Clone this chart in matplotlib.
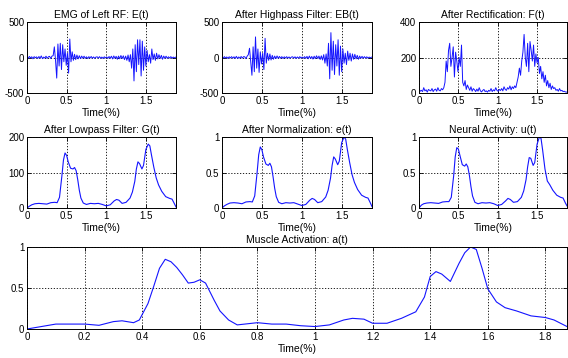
import numpy as np
import matplotlib.pyplot as plt
from matplotlib.ticker import FormatStrFormatter

plt.rcParams['font.family'] = ['Liberation Sans', 'DejaVu Sans']
plt.rcParams['font.size'] = 7

# ------------------------------------------------------------------
# data
# ------------------------------------------------------------------
T_END = 1.88
t_raw = np.linspace(0, 1.875, 126)

emg_raw = [8, -12, 15, -6, 10, -18, 12, -4, 9, -14,
           14, -10, 22, -16, 6, -8, 18, -12, 10, 16,
           -14, 20, 25, 150, -40, -290, 190, -120, 200, -170,
           180, -60, 120, -110, 60, -220, 260, -60, 80, -40,
           45, -30, 35, -20, 25, -15, 20, -10, 18, -12,
           10, -15, 12, -8, 14, -10, 8, -12, 6, 10,
           -8, 12, -10, 6, -14, 10, -6, 8, -12, 14,
           -10, 18, -20, 22, -12, 16, -25, 20, -18, 28,
           -15, 24, -30, 20, -40, 35, -60, 40, -150, 120,
           -330, 180, -200, 250, -100, 250, -260, 230, -180, 150,
           -120, 100, -60, 40, -80, 120, -30, 50, -40, 60,
           -20, 40, -15, 30, -25, 20, -10, 18, -12, 10,
           -8, 12, -10, 6, -5, 4]

emg_hp = [6, -10, 12, -8, 8, -14, 10, -6, 12, -10,
          10, -12, 16, -14, 8, -10, 14, -8, 12, 10,
          -16, 18, 40, 130, -60, -250, 150, -200, 290, -150,
          120, -210, 80, -90, 60, -170, 270, -80, 60, -40,
          50, -35, 30, -25, 20, -15, 22, -12, 15, -10,
          12, -14, 10, -8, 12, -10, 8, -10, 6, 10,
          -8, 10, -12, 8, -10, 12, -8, 6, -10, 12,
          -12, 16, -18, 20, -14, 14, -22, 18, -16, 24,
          -14, 20, -28, 24, -35, 40, -80, 50, -120, 200,
          -300, 350, -180, 230, -240, 180, -120, 250, -250, 160,
          -200, 120, -80, 60, -100, 90, -40, 60, -50, 50,
          -25, 45, -20, 30, -25, 20, -12, 16, -10, 12,
          -8, 10, -10, 6, -4, 5]

emg_rect = [25, 10, 15, 8, 30, 12, 18, 5, 20, 15,
            12, 25, 8, 18, 22, 10, 30, 15, 12, 25,
            18, 30, 60, 180, 120, 240, 280, 150, 200, 260,
            90, 230, 180, 120, 200, 150, 270, 60, 40, 70,
            20, 45, 30, 15, 35, 10, 25, 18, 8, 22,
            10, 30, 12, 6, 15, 20, 8, 12, 5, 15,
            10, 25, 8, 18, 12, 30, 15, 10, 20, 14,
            25, 12, 35, 20, 15, 30, 22, 40, 18, 35,
            25, 40, 30, 60, 90, 140, 100, 180, 230, 330,
            200, 150, 280, 120, 290, 240, 180, 270, 150, 220,
            170, 200, 110, 150, 80, 120, 60, 100, 40, 70,
            30, 55, 20, 40, 25, 30, 15, 20, 10, 25,
            12, 15, 8, 10, 6, 5]

t_smooth = [0.0, 0.03, 0.06, 0.1, 0.15, 0.2, 0.25, 0.3, 0.35, 0.38,
            0.41, 0.44, 0.46, 0.48, 0.5, 0.52, 0.55, 0.58, 0.6, 0.62,
            0.64, 0.66, 0.68, 0.71, 0.75, 0.8, 0.85, 0.9, 0.95, 1.0,
            1.05, 1.1, 1.13, 1.16, 1.2, 1.25, 1.3, 1.33, 1.36, 1.38,
            1.4, 1.42, 1.45, 1.47, 1.5, 1.53, 1.55, 1.57, 1.6, 1.63,
            1.66, 1.7, 1.75, 1.8, 1.83, 1.86, 1.88]

lowpass = [0, 5, 9, 12, 13, 12, 11, 15, 16, 15,
           30, 90, 135, 155, 148, 130, 112, 110, 114, 105,
           80, 50, 28, 14, 10, 13, 12, 13, 10, 6,
           9, 20, 24, 22, 13, 16, 28, 45, 75, 110,
           130, 125, 110, 120, 165, 180, 175, 150, 115, 85,
           65, 47, 32, 27, 25, 12, 3]

normalized = [0, 0.03, 0.05, 0.07, 0.075, 0.07, 0.06, 0.085, 0.09, 0.085,
              0.17, 0.5, 0.75, 0.86, 0.82, 0.72, 0.62, 0.6, 0.63, 0.58,
              0.44, 0.28, 0.16, 0.08, 0.06, 0.075, 0.07, 0.075, 0.055, 0.035,
              0.05, 0.11, 0.135, 0.12, 0.075, 0.09, 0.155, 0.25, 0.42, 0.6,
              0.72, 0.69, 0.61, 0.66, 0.92, 1.0, 0.97, 0.83, 0.64, 0.47,
              0.36, 0.26, 0.18, 0.15, 0.14, 0.07, 0.02]

neural = [0, 0.04, 0.06, 0.07, 0.075, 0.07, 0.065, 0.085, 0.09, 0.09,
          0.15, 0.45, 0.72, 0.85, 0.83, 0.74, 0.61, 0.59, 0.62, 0.58,
          0.46, 0.3, 0.17, 0.08, 0.06, 0.075, 0.07, 0.075, 0.06, 0.035,
          0.05, 0.1, 0.135, 0.12, 0.08, 0.09, 0.15, 0.24, 0.4, 0.58,
          0.71, 0.7, 0.6, 0.64, 0.9, 1.0, 0.98, 0.82, 0.55, 0.38,
          0.33, 0.25, 0.18, 0.15, 0.14, 0.07, 0.03]

t_act = [0.0, 0.05, 0.1, 0.2, 0.25, 0.3, 0.33, 0.37, 0.39, 0.42,
         0.44, 0.46, 0.48, 0.5, 0.52, 0.54, 0.56, 0.58, 0.6, 0.62,
         0.65, 0.67, 0.7, 0.73, 0.8, 0.85, 0.9, 0.95, 1.0, 1.05,
         1.1, 1.13, 1.17, 1.2, 1.25, 1.3, 1.35, 1.38, 1.4, 1.42,
         1.44, 1.47, 1.5, 1.52, 1.54, 1.56, 1.58, 1.6, 1.63, 1.66,
         1.7, 1.75, 1.8, 1.83, 1.875]

activation = [0, 0.03, 0.06, 0.06, 0.045, 0.09, 0.1, 0.077, 0.11, 0.31,
              0.52, 0.74, 0.85, 0.82, 0.75, 0.66, 0.56, 0.57, 0.6, 0.56,
              0.35, 0.22, 0.11, 0.05, 0.077, 0.06, 0.06, 0.04, 0.03, 0.05,
              0.11, 0.13, 0.12, 0.07, 0.07, 0.13, 0.21, 0.39, 0.64, 0.7,
              0.67, 0.58, 0.8, 0.93, 1.0, 0.97, 0.74, 0.49, 0.33, 0.26,
              0.22, 0.16, 0.14, 0.11, 0.03]

# ------------------------------------------------------------------
W, H = 568, 358
fig = plt.figure(figsize=(W / 100, H / 100), dpi=100)

def box(l, t, r, b):
    return [l / W, 1 - b / H, (r - l) / W, (b - t) / H]

LINE = '#1414ff'

def style(ax, ylim, yticks, xticks, title, fmt='%g'):
    ax.set_xlim(0, T_END)
    ax.set_ylim(*ylim)
    ax.set_xticks(xticks)
    ax.set_yticks(yticks)
    ax.xaxis.set_major_formatter(FormatStrFormatter(fmt))
    ax.yaxis.set_major_formatter(FormatStrFormatter('%g'))
    ax.grid(True, color='black', linestyle=(0, (1.5, 2)), linewidth=0.6)
    ax.tick_params(direction='in', length=3, width=0.6, top=True, right=True,
                   labelsize=7, pad=2)
    for s in ax.spines.values():
        s.set_linewidth(0.7)
    ax.set_title(title, fontsize=7.5, pad=3)
    ax.set_xlabel('Time(%)', fontsize=7.5, labelpad=1.5)

top_x = [0, 0.5, 1, 1.5]
cols = [(27, 176), (222, 372), (419, 567)]
r1 = (22, 93)
r2 = (137, 208)

ax = fig.add_axes(box(cols[0][0], r1[0], cols[0][1], r1[1]))
ax.plot(t_raw, emg_raw, color=LINE, lw=0.7)
style(ax, (-500, 500), [-500, 0, 500], top_x, 'EMG of Left RF: E(t)')

ax = fig.add_axes(box(cols[1][0], r1[0], cols[1][1], r1[1]))
ax.plot(t_raw, emg_hp, color=LINE, lw=0.7)
style(ax, (-500, 500), [-500, 0, 500], top_x, 'After Highpass Filter: EB(t)')

ax = fig.add_axes(box(cols[2][0], r1[0], cols[2][1], r1[1]))
ax.plot(t_raw, emg_rect, color=LINE, lw=0.7)
style(ax, (0, 400), [0, 200, 400], top_x, 'After Rectification: F(t)')

ax = fig.add_axes(box(cols[0][0], r2[0], cols[0][1], r2[1]))
ax.plot(t_smooth, lowpass, color=LINE, lw=0.8)
style(ax, (0, 200), [0, 100, 200], top_x, 'After Lowpass Filter: G(t)')

ax = fig.add_axes(box(cols[1][0], r2[0], cols[1][1], r2[1]))
ax.plot(t_smooth, normalized, color=LINE, lw=0.8)
style(ax, (0, 1), [0, 0.5, 1], top_x, 'After Normalization: e(t)')

ax = fig.add_axes(box(cols[2][0], r2[0], cols[2][1], r2[1]))
ax.plot(t_smooth, neural, color=LINE, lw=0.8)
style(ax, (0, 1), [0, 0.5, 1], top_x, 'Neural Activity: u(t)')

ax = fig.add_axes(box(27, 247, 567, 329))
ax.plot(t_act, activation, color=LINE, lw=0.8)
style(ax, (0, 1), [0, 0.5, 1], [0, 0.2, 0.4, 0.6, 0.8, 1, 1.2, 1.4, 1.6, 1.8],
      'Muscle Activation: a(t)')
ax.set_xlim(0, 1.875)

fig.savefig('out.png', dpi=100)
